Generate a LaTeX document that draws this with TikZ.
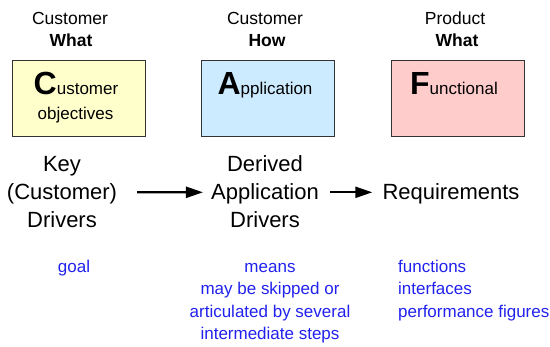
\documentclass[tikz,border=0pt]{standalone}
\usepackage{fontspec}
\setmainfont{Liberation Sans}
\usetikzlibrary{arrows.meta}
\definecolor{boxyellow}{HTML}{FFFFCC}
\definecolor{boxblue}{HTML}{CCEBFF}
\definecolor{boxpink}{HTML}{FFCCCC}
\definecolor{txtblue}{HTML}{2222EE}
\newcommand{\bigini}[1]{{\fontsize{32}{32}\selectfont\bfseries #1}}
\tikzset{
  box/.style={draw=black!80, line width=0.9pt, minimum width=133pt, minimum height=76pt, inner sep=0pt},
  head/.style={anchor=base, inner sep=0pt, font=\fontsize{17.5}{21}\selectfont},
  headb/.style={head, font=\fontsize{17.5}{21}\selectfont\bfseries},
  intxt/.style={anchor=base, inner sep=0pt, font=\fontsize{17}{20}\selectfont},
  mid/.style={anchor=base, inner sep=0pt, font=\fontsize{22}{26}\selectfont},
  note/.style={anchor=base, inner sep=0pt, text=txtblue, font=\fontsize{17}{20}\selectfont},
  notel/.style={note, anchor=base west},
  arr/.style={line width=2.2pt, -{Triangle[length=17pt,width=11pt]}}
}
\begin{document}
\begin{tikzpicture}[x=1pt,y=1pt]
\useasboundingbox[fill=white] (0,0) rectangle (550,-347);
% headers
\node[head]  (h1a) at (70,-25) {Customer};
\node[headb] (h1b) at (71,-47) {What};
\node[head]  (h2a) at (265,-25) {Customer};
\node[headb] (h2b) at (267,-47) {How};
\node[head]  (h3a) at (455,-25) {Product};
\node[headb] (h3b) at (457,-47) {What};
% boxes
\node[box, fill=boxyellow] (b1) at (78.8,-98) {};
\node[box, fill=boxblue]   (b2) at (268,-98) {};
\node[box, fill=boxpink]   (b3) at (457.5,-98) {};
\node[intxt] (b1t1) at (76,-95) {\bigini{C}ustomer};
\node[intxt] (b1t2) at (75.5,-120) {objectives};
\node[intxt] (b2t1) at (265,-95) {\bigini{A}pplication};
\node[intxt] (b3t1) at (454,-95) {\bigini{F}unctional};
% middle row
\node[mid] (k1) at (62,-172) {Key};
\node[mid] (k2) at (62,-200) {(Customer)};
\node[mid] (k3) at (62,-228) {Drivers};
\node[mid] (a1) at (265,-172) {Derived};
\node[mid] (a2) at (265,-200) {Application};
\node[mid] (a3) at (265,-228) {Drivers};
\node[mid] (r2) at (451,-200) {Requirements};
\draw[arr, shorten <=20pt, shorten >=8pt] ([yshift=2pt]k2.east) -- ([yshift=2pt]a2.west);
\draw[arr, shorten <=11pt, shorten >=10pt] ([yshift=2pt]a2.east) -- ([yshift=2pt]r2.west);
% notes
\node[note] (n1) at (74,-273) {goal};
\node[note] (n2a) at (270,-273) {means};
\node[note] (n2b) at (270,-295) {may be skipped or};
\node[note] (n2c) at (270,-318) {articulated by several};
\node[note] (n2d) at (270,-340) {intermediate steps};
\node[notel] (n3a) at (398,-273) {functions};
\node[notel] (n3b) at (398,-295) {interfaces};
\node[notel] (n3c) at (398,-318) {performance figures};
\end{tikzpicture}
\end{document}
